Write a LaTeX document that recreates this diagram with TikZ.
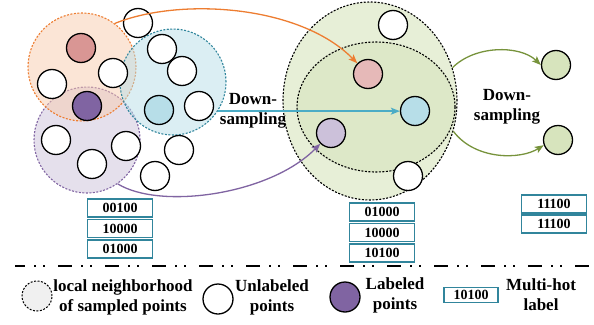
\documentclass[tikz,border=0pt]{standalone}
\usepackage{fontspec}
\setmainfont{Liberation Serif}
\usetikzlibrary{shapes.geometric,arrows.meta}
\definecolor{orng}{HTML}{ED7D31}
\definecolor{orngfill}{HTML}{F8CBAD}
\definecolor{teal1}{HTML}{31859C}
\definecolor{tealarr}{HTML}{4BACC6}
\definecolor{tealfill}{HTML}{B7DEE8}
\definecolor{purp}{HTML}{8064A2}
\definecolor{purpfill}{HTML}{CCC1DA}
\definecolor{grn}{HTML}{77933C}
\definecolor{grnfill}{HTML}{D7E4BD}
\definecolor{pinkA}{HTML}{D99694}
\definecolor{pinkB}{HTML}{E6B9B8}
\definecolor{boxc}{HTML}{31859C}
\begin{document}
\begin{tikzpicture}[x=1pt,y=-1pt,
  every node/.style={font=\bfseries},
  pt/.style={circle,draw=black,line width=1.3pt,minimum size=29pt,inner sep=0pt,fill=white},
  region/.style={circle,line width=1.1pt,dash pattern=on 2pt off 1.5pt,fill opacity=0.5,inner sep=0pt},
  bigreg/.style={ellipse,draw=black,line width=1.1pt,dash pattern=on 2pt off 1.5pt,fill=grnfill,fill opacity=0.6,inner sep=0pt},
  lbl/.style={draw=boxc,line width=1.4pt,minimum width=65pt,minimum height=18pt,inner sep=0pt,font=\bfseries\fontsize{14}{14}\selectfont},
  txt/.style={align=center,font=\bfseries\fontsize{17}{20}\selectfont,inner sep=0pt},
  arr/.style={line width=1.3pt,-{Stealth[length=9pt,width=7pt,inset=2pt]}}
]
\useasboundingbox (0,0) rectangle (594,324);

% left neighborhoods
\node[region,draw=purp,fill=purpfill,minimum size=106pt] (pc) at (87,140) {};
\node[region,draw=orng,fill=orngfill,minimum size=108pt] (oc) at (82,67) {};
\node[region,draw=teal1,fill=tealfill,minimum size=106pt] (tc) at (173,82) {};

% left points
\node[pt,fill=pinkA] (lp1) at (81,48) {};
\node[pt] (u1) at (113,73) {};
\node[pt] (u2) at (52,84) {};
\node[pt,fill=purp] (lp2) at (87,106) {};
\node[pt] (u3) at (138,23) {};
\node[pt] (u4) at (162,49) {};
\node[pt] (u5) at (182,71) {};
\node[pt,fill=tealfill] (lp3) at (159,110) {};
\node[pt] (u6) at (199,106) {};
\node[pt] (u7) at (56,140) {};
\node[pt] (u8) at (126,146) {};
\node[pt] (u9) at (92,164) {};
\node[pt] (u10) at (179,150) {};
\node[pt] (u11) at (155,176) {};

% middle regions
\node[bigreg,minimum width=174pt,minimum height=198pt] (gout) at (370,101) {};
\node[bigreg,minimum width=158pt,minimum height=130pt] (gin) at (376,107) {};

\node[pt] (m1) at (393,25) {};
\node[pt,fill=pinkB] (mp) at (368,74) {};
\node[pt,fill=tealfill] (mb) at (415,111) {};
\node[pt,fill=purpfill] (ml) at (331,133) {};
\node[pt] (m2) at (408,176) {};

% right points
\node[pt,fill=grnfill] (r1) at (556,65) {};
\node[pt,fill=grnfill] (r2) at (558,140) {};

% arrows
\draw[arr,orng] (oc.53) .. controls (180,-3) and (300,5) .. (mp.135);
\draw[arr,purp] (pc.-55) .. controls (160,210) and (270,195) .. (ml.225);
\draw[arr,tealarr,line width=1.5pt] (tc.-33) -- (tc.-33 -| mb.west);
\draw[arr,grn] (gout.22) .. controls (475,45) and (520,45) .. (r1.west);
\draw[arr,grn] (gout.-20) .. controls (475,160) and (520,160) .. (r2.200);

\node[txt] (ds1) at (253,111) {Down-\\sampling};
\node[txt] (ds2) at (507,107) {Down-\\sampling};

% label boxes
\node[lbl] (b1) at (120,208) {00100};
\node[lbl] (b2) at (120,228.5) {10000};
\node[lbl] (b3) at (120,249) {01000};
\node[lbl] (b4) at (382,212) {01000};
\node[lbl] (b5) at (382,232.5) {10000};
\node[lbl] (b6) at (382,253) {10100};
\node[lbl] (b7) at (554,204) {11100};
\node[lbl] (b8) at (554,224) {11100};

% separator
\coordinate (sepL) at (15,266);
\coordinate (sepR) at (594,266);
\draw[line width=2pt,dash pattern=on 14pt off 9pt on 2pt off 7pt on 2pt off 13pt,dash phase=4pt] (sepL) -- (sepR);

% legend
\node[circle,draw=black,line width=1pt,dash pattern=on 2pt off 1.5pt,fill=black!6,minimum size=30pt,inner sep=0pt] (lg1) at (37,296) {};
\node[txt] (lt1) at (123,297) {local neighborhood\\of sampled points};
\node[pt,minimum size=30pt] (lg2) at (218,299) {};
\node[txt] (lt2) at (272,297) {Unlabeled\\points};
\node[pt,fill=purp,minimum size=30pt] (lg3) at (345,297) {};
\node[txt] (lt3) at (395,295) {Labeled\\points};
\node[lbl,minimum width=54pt,minimum height=15pt] (lg4) at (471,295) {10100};
\node[txt] (lt4) at (541,295) {Multi-hot\\label};
\end{tikzpicture}
\end{document}
